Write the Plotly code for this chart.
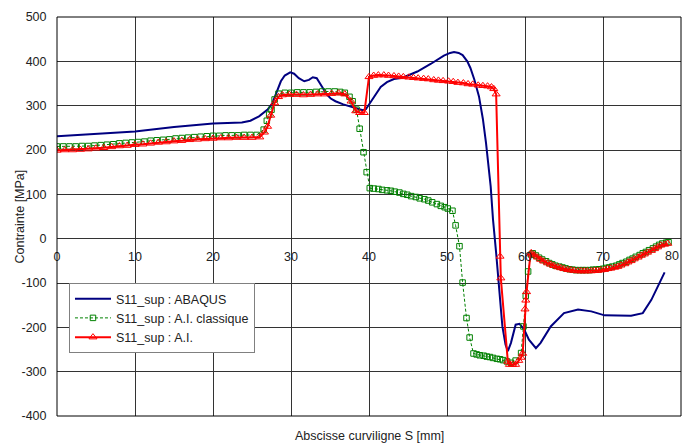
import plotly.graph_objects as go

# ---------------- data ----------------
name_abaqus = "S11_sup : ABAQUS"
name_classique = "S11_sup : A.I. classique"
name_ai = "S11_sup : A.I."

s_abaqus = [0, 5, 10, 15, 20, 23.7, 24.8, 25.9, 27.0, 27.6, 28.2, 28.7, 29.2, 29.9, 30.4, 31.0,
            31.7, 32.3, 32.8, 33.3, 34.0, 34.6, 35.1, 35.7, 36.7, 37.7, 38.5, 39.2, 39.6, 40.3,
            40.9, 41.5, 42.3, 43.2, 44.3, 45.3, 46.2, 47.9, 49.6, 50.4, 50.9, 51.5, 52.0, 52.6,
            53.0, 53.5, 54.1, 54.6, 55.0, 55.6, 55.9, 56.3, 56.7, 57.1, 57.5, 57.8, 58.2, 58.8,
            59.3, 59.9, 60.5, 61.4, 62.0, 63.3, 65.0, 66.8, 68.5, 70.2, 73.6, 75.1, 76.2, 77.9]
v_abaqus = [231, 236, 242, 252, 260, 262, 266, 276, 291, 305, 335, 355, 368, 375, 372, 362,
            355, 358, 364, 362, 342, 325, 316, 310, 303, 298, 293, 290, 292, 310,
            324, 342, 353, 360, 363, 370, 377, 394, 413, 419, 421, 419, 414, 400,
            385, 359, 321, 270, 216, 118, 43, -32, -108, -198, -239, -254, -235, -194,
            -192, -205, -228, -247, -235, -198, -168, -160, -164, -173, -174, -168, -138, -76]

s_classique = [0, 0.8, 1.6, 2.4, 3.2, 4.0, 4.8, 5.6, 6.4, 7.2, 8.0, 8.8, 9.6, 10.4, 11.2, 12.0,
               12.8, 13.6, 14.4, 15.2, 16.0, 16.8, 17.6, 18.4, 19.2, 20.0, 20.8, 21.6, 22.4,
               23.2, 24.0, 24.8, 25.6, 26.5, 26.9, 27.2, 27.5, 27.9, 28.4, 29.2, 30.0, 30.8,
               31.6, 32.4, 33.2, 34.0, 34.8, 35.6, 36.3, 36.9, 37.5, 37.9, 38.4, 38.8, 39.3,
               39.7, 40.1, 40.6, 41.2, 41.7, 42.3, 42.8, 43.3, 43.9, 44.4, 44.9, 45.4, 46.0,
               46.5, 47.1, 47.6, 48.1, 48.7, 49.2, 49.7, 50.1, 50.7, 51.1, 51.6, 52.0, 52.5,
               52.9, 53.4, 53.8, 54.2, 54.7, 55.1, 55.5, 55.9, 56.4, 56.8, 57.2, 57.7, 58.2,
               58.8, 59.5, 59.8, 60.1, 60.4, 60.8, 61.0, 61.4, 61.8, 62.2, 62.7, 63.1, 63.5,
               63.9, 64.4, 64.8, 65.2, 65.7, 66.1, 66.5, 67.0, 67.4, 67.8, 68.3, 68.7, 69.1,
               69.5, 70.0, 70.4, 70.8, 71.2, 71.7, 72.1, 72.5, 73.0, 73.4, 73.8, 74.2, 74.7,
               75.1, 75.5, 75.9, 76.4, 76.8, 77.2, 77.6, 78.1, 78.4]
v_classique = [208, 208, 208, 208, 209, 209, 210, 211, 212, 213, 215, 216, 217, 218, 219, 221,
               222, 223, 224, 226, 227, 228, 229, 230, 231, 232, 232, 233, 233,
               233, 234, 234, 234, 246, 266, 280, 291, 314, 327, 329, 329, 330,
               330, 330, 331, 332, 332, 332, 331, 329, 320, 310, 291, 248, 195,
               150, 114, 113, 112, 110, 109, 108, 106, 104, 101, 99, 96, 94,
               91, 89, 86, 82, 78, 74, 71, 68, 63, 30, -17, -99, -179,
               -223, -259, -261, -263, -264, -266, -267, -269, -271, -272, -274, -277, -280,
               -275, -258, -198, -129, -74, -36, -33, -38, -43, -47, -51, -55, -58,
               -61, -63, -65, -67, -69, -70, -71, -71, -71, -71, -71, -70, -70,
               -69, -68, -66, -65, -63, -61, -58, -55, -52, -48, -45, -41, -37,
               -33, -30, -26, -22, -18, -14, -11, -9, -8]

s_ai = [0, 1, 2, 3, 4, 5, 6, 7, 8, 9, 10, 11, 12, 13, 14, 15, 16, 17, 18, 19, 20, 21, 22, 23,
        24, 25, 26, 26.6, 27.0, 27.4, 27.9, 28.4, 28.9, 29.8, 30.7, 31.6, 32.5, 33.4, 34.3,
        35.2, 36.1, 36.9, 37.7, 38.3, 38.8, 39.4, 40.0, 40.6, 41.2, 41.9, 42.5, 43.2, 43.8,
        44.4, 45.1, 45.7, 46.3, 47.0, 47.6, 48.3, 48.9, 49.5, 50.2, 50.8, 51.4, 52.1, 52.7,
        53.3, 54.0, 54.6, 55.2, 55.7, 56.0, 56.3, 56.8, 56.9, 57.8, 58.0, 58.4, 58.8, 59.2,
        59.5, 59.7, 60.0, 60.1, 60.2, 60.7, 60.8, 61.2, 61.6, 62.0, 62.4, 62.9, 63.3, 63.7,
        64.2, 64.6, 65.0, 65.5, 65.9, 66.3, 66.8, 67.2, 67.6, 68.0, 68.5, 68.9, 69.3, 69.7,
        70.2, 70.6, 71.0, 71.5, 71.9, 72.3, 72.8, 73.2, 73.6, 74.0, 74.5, 74.9, 75.3, 75.7,
        76.2, 76.6, 77.0, 77.4, 77.9, 78.3]
v_ai = [199, 200, 200, 201, 202, 204, 205, 207, 209, 210, 212, 213, 215, 217, 218, 220, 221,
        223, 224, 225, 226, 227, 227, 228, 228, 228, 229, 240, 253, 278, 306, 320, 324, 325,
        325, 324, 325, 326, 326, 327, 328, 326, 310, 288, 284, 284, 365, 368, 369, 369, 368,
        367, 366, 365, 364, 363, 362, 361, 360, 358, 357, 356, 355, 354, 352, 351, 349, 348,
        346, 345, 344, 342, 338, 326, -40, -89, -277, -284, -284, -284, -275, -268, -259,
        -159, -139, -120, -35, -32, -37, -42, -47, -51, -55, -58, -61, -64, -66, -68, -70,
        -71, -72, -73, -73, -73, -73, -73, -72, -72, -71, -70, -68, -67, -65, -63, -60, -57,
        -53, -50, -46, -42, -38, -35, -31, -27, -23, -19, -15, -13, -11]

x_ticks = [0, 10, 20, 30, 40, 50, 60, 70, 80]
y_ticks = [-400, -300, -200, -100, 0, 100, 200, 300, 400, 500]
x_title = "Abscisse curviligne S [mm]"
y_title = "Contrainte [MPa]"

# ---------------- figure ----------------
FONT = "Arial, Liberation Sans, sans-serif"
FS = 12.5
TXT = "#222"
fig = go.Figure()

fig.add_trace(go.Scatter(
    x=s_abaqus, y=v_abaqus, name=name_abaqus, mode="lines",
    line=dict(color="#000080", width=2)))

fig.add_trace(go.Scatter(
    x=s_classique, y=v_classique, name=name_classique, mode="lines+markers",
    line=dict(color="#008000", width=1, dash="3px,2px"),
    marker=dict(symbol="square-open", size=5.5, color="#008000", line=dict(width=1))))

fig.add_trace(go.Scatter(
    x=s_ai, y=v_ai, name=name_ai, mode="lines+markers",
    line=dict(color="#FF0000", width=2),
    marker=dict(symbol="triangle-up-open", size=7, color="#FF0000", line=dict(width=1))))

grid = "#333333"
x_axis_pos = 400 / 900  # x axis crosses the y axis at value 0
fig.update_layout(
    width=682, height=446,
    margin=dict(l=57, r=1, t=17, b=30),
    paper_bgcolor="white", plot_bgcolor="white",
    font=dict(family=FONT, size=FS, color=TXT),
    showlegend=True,
    legend=dict(x=0.0192, y=0.3333, xanchor="left", yanchor="top",
                bgcolor="white", bordercolor="#808080", borderwidth=1,
                font=dict(family=FONT, size=FS, color=TXT),
                itemwidth=36, tracegroupgap=0),
    xaxis=dict(range=[0, 80], tickvals=x_ticks, ticktext=[str(t) for t in x_ticks],
               showgrid=True, gridcolor=grid, gridwidth=1, zeroline=False,
               showline=False, anchor="free", position=x_axis_pos,
               ticks="outside", ticklen=6, tickcolor="rgba(0,0,0,0)",
               tickfont=dict(family=FONT, size=FS, color=TXT)),
    yaxis=dict(range=[-400, 500], tickvals=y_ticks, ticktext=[str(t) for t in y_ticks],
               showgrid=True, gridcolor=grid, gridwidth=1, zeroline=False,
               showline=False, ticks="outside", ticklen=7, tickcolor="rgba(0,0,0,0)",
               tickfont=dict(family=FONT, size=FS, color=TXT)),
    shapes=[dict(type="rect", xref="paper", yref="paper", x0=0, x1=1, y0=0, y1=1,
                 line=dict(color="black", width=1), layer="above")],
    annotations=[
        dict(text=x_title, xref="paper", yref="paper", x=0.5, y=-0.05,
             xanchor="center", yanchor="middle", showarrow=False,
             font=dict(family=FONT, size=FS, color=TXT)),
        dict(text=y_title, xref="paper", yref="paper", x=-0.0593, y=0.5,
             xanchor="center", yanchor="middle", textangle=-90, showarrow=False,
             font=dict(family=FONT, size=FS, color=TXT)),
        # last x tick label, kept fully inside the right edge
        dict(text=str(x_ticks[-1]), xref="x", yref="paper", x=x_ticks[-1], y=x_axis_pos,
             xanchor="right", yanchor="top", yshift=-8, showarrow=False,
             font=dict(family=FONT, size=FS, color=TXT)),
    ],
)

fig.write_html("out.html", config={"displayModeBar": False})
